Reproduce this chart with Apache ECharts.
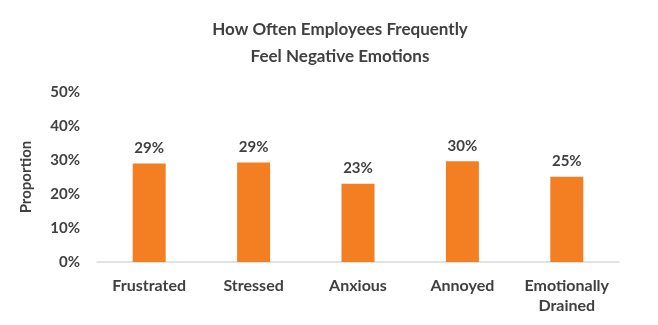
<!DOCTYPE html>
<html>
<head>
<meta charset="utf-8">
<script src="https://cdn.jsdelivr.net/npm/echarts@6/dist/echarts.min.js"></script>
<style>
  html, body { margin: 0; padding: 0; background: #fff; }
  #chart { width: 658px; height: 325px; }
</style>
</head>
<body>
<div id="chart"></div>
<script>
// Share of employees who frequently feel each negative emotion
const categories = ['Frustrated', 'Stressed', 'Anxious', 'Annoyed', 'Emotionally\nDrained'];
const proportions = [0.29, 0.293, 0.23, 0.296, 0.251];
const yTicks = [0, 0.1, 0.2, 0.3, 0.4, 0.5];

const textColor = '#404040';
const fontFamily = 'Lato, "Open Sans", sans-serif';
const pct = v => Math.round(v * 100) + '%';

const chart = echarts.init(document.getElementById('chart'), null, { renderer: 'canvas' });
chart.setOption({
  animation: false,
  backgroundColor: '#ffffff',
  title: {
    text: 'How Often Employees Frequently\nFeel Negative Emotions',
    left: 335,
    textAlign: 'center',
    top: 11,
    textStyle: {
      color: textColor,
      fontFamily: fontFamily,
      fontWeight: 'bold',
      fontSize: 17,
      lineHeight: 27,
      align: 'center'
    }
  },
  grid: { left: 97, right: 39, top: 92, bottom: 63 },
  xAxis: {
    type: 'category',
    data: categories,
    axisLine: { lineStyle: { color: '#d9d9d9', width: 1.5 } },
    axisTick: { show: false },
    axisLabel: {
      interval: 0,
      color: textColor,
      fontFamily: fontFamily,
      fontWeight: 'bold',
      fontSize: 16,
      lineHeight: 20,
      margin: 14
    }
  },
  yAxis: {
    type: 'value',
    min: yTicks[0],
    max: yTicks[yTicks.length - 1],
    interval: yTicks[1] - yTicks[0],
    name: 'Proportion',
    nameLocation: 'middle',
    nameGap: 63,
    nameTextStyle: {
      color: textColor,
      fontFamily: fontFamily,
      fontWeight: 'bold',
      fontSize: 15
    },
    splitLine: { show: false },
    axisLine: { show: false },
    axisTick: { show: false },
    axisLabel: {
      color: textColor,
      fontFamily: fontFamily,
      fontWeight: 'bold',
      fontSize: 15,
      margin: 17,
      formatter: v => pct(v)
    }
  },
  series: [{
    type: 'bar',
    data: proportions,
    barWidth: 33,
    itemStyle: { color: '#f47f22' },
    label: {
      show: true,
      position: 'top',
      distance: 8,
      color: textColor,
      fontFamily: fontFamily,
      fontWeight: 'bold',
      fontSize: 15,
      formatter: p => pct(p.value)
    }
  }]
});
</script>
</body>
</html>
